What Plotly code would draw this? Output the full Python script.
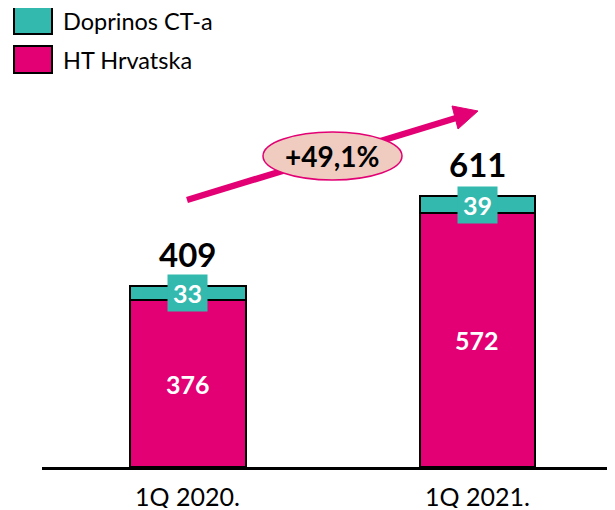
import plotly.graph_objects as go

categories = ["1Q 2020.", "1Q 2021."]
ht_hrvatska = [376, 572]
doprinos_ct = [33, 39]
totals = [409, 611]
growth_label = "+49,1%"

MAGENTA = "#E20074"
TEAL = "#33B9AE"
FONT = "Lato"

# page body has an 8px margin; figure is sized/offset to compensate
OFF = 8
W, H = 615 - OFF, 510 - OFF
L, R, T, B = 42 - OFF, 0, 52, 43
plot_w = W - L - R
plot_h = H - T - B
ymax = plot_h / 0.4435
xr = [-0.504, 1.475]
BASE = 467  # page pixel of the baseline

def px_to_x(px):
    return xr[0] + (px - 42) / plot_w * (xr[1] - xr[0])

def py_to_y(py):
    return (BASE - py) / plot_h * ymax

def px_to_paper(px):
    return (px - 42) / plot_w

def py_to_paper(py):
    return (BASE - py) / plot_h

fig = go.Figure()
fig.add_trace(go.Bar(x=[0, 1], y=ht_hrvatska, name="HT Hrvatska", width=0.40,
                     marker=dict(color=MAGENTA, line=dict(color="black", width=2))))
fig.add_trace(go.Bar(x=[0, 1], y=doprinos_ct, name="Doprinos CT-a", width=0.40,
                     marker=dict(color=TEAL, line=dict(color="black", width=2))))

ann = []
for i in range(2):
    ann.append(dict(x=i, y=ht_hrvatska[i] / 2, text=f"<b>{ht_hrvatska[i]}</b>", showarrow=False,
                    font=dict(family=FONT, size=25, color="white"), xref="x", yref="y"))
    ann.append(dict(x=i, y=ht_hrvatska[i] + doprinos_ct[i] / 2, text=f"<b>{doprinos_ct[i]}</b>", showarrow=False,
                    font=dict(family=FONT, size=25, color="white"), bgcolor=TEAL, borderpad=0,
                    width=39, height=36, xref="x", yref="y"))
    ann.append(dict(x=i, y=totals[i], text=f"<b>{totals[i]}</b>", showarrow=False, yshift=32,
                    font=dict(family=FONT, size=33, color="black"), xref="x", yref="y"))
    ann.append(dict(x=i, y=py_to_paper(496), text=categories[i], showarrow=False, xref="x", yref="paper",
                    yanchor="middle", height=24, borderpad=0,
                    font=dict(family=FONT, size=25, color="black")))

# growth ellipse label
ann.append(dict(x=px_to_x(332), y=py_to_y(156), text=f"<b>{growth_label}</b>", showarrow=False,
                font=dict(family=FONT, size=28, color="black"), xref="x", yref="y"))

# legend
legend_items = [("Doprinos CT-a", TEAL, 7, 34), ("HT Hrvatska", MAGENTA, 46, 73)]
shapes = []
for name, col, y0, y1 in legend_items:
    shapes.append(dict(type="rect", xref="paper", yref="paper",
                       x0=px_to_paper(14), x1=px_to_paper(52),
                       y0=py_to_paper(y1), y1=py_to_paper(y0),
                       fillcolor=col, line=dict(color="black", width=2)))
    ann.append(dict(x=px_to_paper(61), y=py_to_paper((y0 + y1) / 2), xref="paper", yref="paper",
                    text=name, showarrow=False, xanchor="left", yanchor="middle",
                    font=dict(family=FONT, size=23.5, color="black")))

# arrow line and head
shapes.append(dict(type="line", xref="x", yref="y",
                   x0=px_to_x(187), y0=py_to_y(200), x1=px_to_x(456), y1=py_to_y(118),
                   line=dict(color=MAGENTA, width=6.5)))
tip = (px_to_x(478), py_to_y(111))
c1 = (px_to_x(452), py_to_y(106))
c2 = (px_to_x(458), py_to_y(129))
shapes.append(dict(type="path", xref="x", yref="y",
                   path=f"M {tip[0]},{tip[1]} L {c1[0]},{c1[1]} L {c2[0]},{c2[1]} Z",
                   fillcolor=MAGENTA, line=dict(color=MAGENTA, width=1)))
shapes.append(dict(type="circle", xref="x", yref="y",
                   x0=px_to_x(263), x1=px_to_x(402), y0=py_to_y(180), y1=py_to_y(132),
                   fillcolor="#EFCCBF", line=dict(color=MAGENTA, width=1.5)))

fig.update_layout(
    barmode="stack",
    width=W, height=H,
    margin=dict(l=L, r=R, t=T, b=B),
    plot_bgcolor="white", paper_bgcolor="white",
    showlegend=False,
    annotations=ann,
    shapes=shapes,
    xaxis=dict(range=xr, tickmode="array", tickvals=[0, 1], ticktext=["", ""],
               showgrid=False, zeroline=False, showline=True, linecolor="black", linewidth=3,
               ticks="", fixedrange=True),
    yaxis=dict(range=[0, ymax], visible=False, showgrid=False, zeroline=False, fixedrange=True),
)

fig.write_html("out.html")
